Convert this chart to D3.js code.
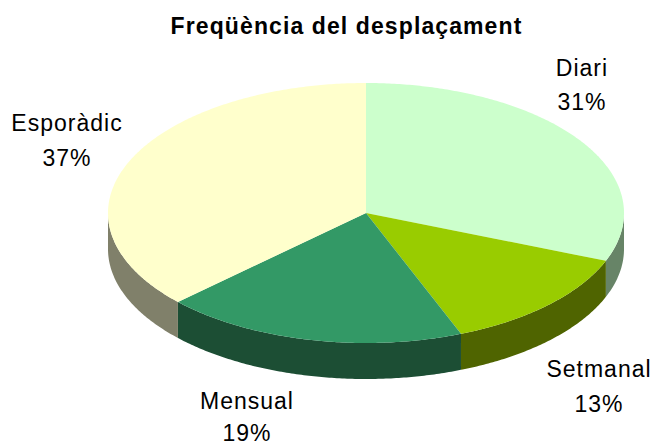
<!DOCTYPE html>
<html><head><meta charset="utf-8">
<script src="https://cdnjs.cloudflare.com/ajax/libs/d3/7.8.5/d3.min.js"></script>
<style>html,body{margin:0;padding:0;background:#fff}svg{display:block}text{font-family:"Liberation Sans",Arial,sans-serif;fill:#000}</style>
</head><body><svg id="c" width="656" height="446"></svg>
<script>
const chartTitle = "Freqüència del desplaçament";
const categories = ["Diari","Setmanal","Mensual","Esporàdic"];
const percents = [31,13,19,37];
const topColors = ["#CCFFCC","#99CC00","#339966","#FFFFCC"];
const sideColors = ["#678467","#4F6400","#1C4E34","#80806A"];
const labelX = [582,599,247,67];
const labelY = [76,377,409,131];
const percentY = [110,412,441,166];

const svg = d3.select("#c");
const cx = 366, cy = 213, rx = 258, ry = 130, depth = 36;
const sx = d3.scaleLinear().domain([-1,1]).range([cx-rx,cx+rx]);
const sy = d3.scaleLinear().domain([-1,1]).range([cy-ry,cy+ry]);
const data = categories.map((c,i)=>({c,v:percents[i],i}));
const arcs = d3.pie().sort(null).value(d=>d.v)(data);
const px = a => sx(Math.sin(a)), py = a => sy(-Math.cos(a));
const line = d3.line();
const H = Math.PI/2, E = 3*Math.PI/2;

arcs.forEach(a=>{
  const s = Math.max(a.startAngle,H), e = Math.min(a.endAngle,E);
  if (e<=s) return;
  const ts = d3.range(s,e,0.01).concat([e]);
  const pts = ts.map(t=>[px(t),py(t)]).concat(ts.slice().reverse().map(t=>[px(t),py(t)+depth]));
  svg.append("path").attr("d",line(pts)+"Z").attr("fill",sideColors[a.data.i]);
});
arcs.forEach(a=>{
  const ts = d3.range(a.startAngle,a.endAngle,0.01).concat([a.endAngle]);
  const pts = [[sx(0),sy(0)]].concat(ts.map(t=>[px(t),py(t)]));
  svg.append("path").attr("d",line(pts)+"Z").attr("fill",topColors[a.data.i]);
});
svg.append("text").attr("x",346.5).attr("y",34).attr("text-anchor","middle")
  .attr("font-size",23).attr("font-weight","bold").attr("letter-spacing",1.1).text(chartTitle);
data.forEach((d,i)=>{
  svg.append("text").attr("x",labelX[i]).attr("y",labelY[i]).attr("text-anchor","middle").attr("font-size",23).attr("letter-spacing",1).text(d.c);
  svg.append("text").attr("x",labelX[i]).attr("y",percentY[i]).attr("text-anchor","middle").attr("font-size",23).attr("letter-spacing",1).text(d.v+"%");
});
</script></body></html>
